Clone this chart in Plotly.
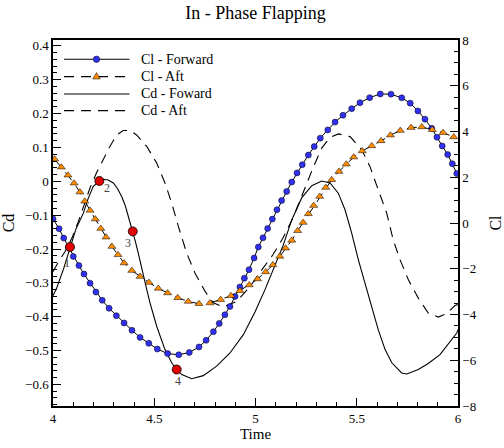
import plotly.graph_objects as go

# ---- Data ----
cl_fwd_t = [4.000, 4.030, 4.053, 4.077, 4.100, 4.128, 4.153, 4.183, 4.212, 4.243,
            4.277, 4.313, 4.351, 4.390, 4.430, 4.473, 4.515, 4.566, 4.621, 4.673,
            4.721, 4.756, 4.792, 4.821, 4.849, 4.874, 4.899, 4.923, 4.945, 4.968,
            4.993, 5.014, 5.037, 5.060, 5.083, 5.106, 5.129, 5.154, 5.179, 5.205,
            5.231, 5.261, 5.290, 5.320, 5.357, 5.393, 5.432, 5.475, 5.516, 5.564,
            5.616, 5.669, 5.722, 5.764, 5.802, 5.837, 5.870, 5.896, 5.922, 5.949,
            5.972, 5.994]
cl_fwd = [0.18, -0.25, -0.66, -1.06, -1.46, -1.86, -2.23, -2.63, -3.02, -3.38,
          -3.73, -4.05, -4.37, -4.69, -5.00, -5.26, -5.51, -5.71, -5.76, -5.66,
          -5.42, -5.13, -4.75, -4.39, -4.01, -3.65, -3.21, -2.80, -2.41, -2.04,
          -1.53, -1.05, -0.65, -0.24, 0.17, 0.58, 0.98, 1.38, 1.79, 2.19,
          2.55, 2.97, 3.34, 3.71, 4.07, 4.41, 4.71, 5.00, 5.26, 5.48,
          5.64, 5.63, 5.47, 5.24, 4.90, 4.54, 4.14, 3.75, 3.37, 2.99,
          2.59, 2.16]

cl_aft_t = [4.008, 4.041, 4.074, 4.104, 4.133, 4.157, 4.183, 4.209, 4.236, 4.262,
            4.291, 4.321, 4.351, 4.389, 4.430, 4.474, 4.520, 4.566, 4.616, 4.668,
            4.721, 4.775, 4.828, 4.879, 4.923, 4.969, 5.010, 5.050, 5.086, 5.120,
            5.149, 5.179, 5.208, 5.235, 5.261, 5.287, 5.317, 5.347, 5.376, 5.412,
            5.448, 5.485, 5.527, 5.574, 5.620, 5.666, 5.715, 5.768, 5.821, 5.873,
            5.926, 5.979]
cl_aft = [2.79, 2.44, 2.09, 1.74, 1.35, 0.95, 0.55, 0.17, -0.24, -0.62,
          -1.03, -1.39, -1.75, -2.08, -2.34, -2.60, -2.86, -3.06, -3.27, -3.43,
          -3.53, -3.50, -3.35, -3.18, -2.96, -2.71, -2.45, -2.14, -1.83, -1.46,
          -1.10, -0.76, -0.34, 0.02, 0.40, 0.76, 1.16, 1.55, 1.89, 2.25,
          2.57, 2.88, 3.15, 3.37, 3.59, 3.84, 4.04, 4.17, 4.20, 4.08,
          3.95, 3.76]

cd_fwd_t = [4.000, 4.018, 4.051, 4.084, 4.114, 4.150, 4.173, 4.199, 4.229, 4.248,
            4.272, 4.298, 4.319, 4.339, 4.357, 4.372, 4.394, 4.407, 4.421, 4.446,
            4.463, 4.479, 4.512, 4.553, 4.586, 4.611, 4.636, 4.685, 4.742, 4.808,
            4.874, 4.940, 4.998, 5.047, 5.096, 5.136, 5.179, 5.228, 5.278, 5.327,
            5.368, 5.409, 5.442, 5.475, 5.508, 5.541, 5.574, 5.606, 5.640, 5.673,
            5.722, 5.747, 5.804, 5.853, 5.911, 5.952, 5.994, 6.000]
cd_fwd = [-0.338, -0.315, -0.261, -0.194, -0.140, -0.094, -0.052, -0.015, 0.001, 0.006,
          0.004, -0.005, -0.022, -0.045, -0.072, -0.104, -0.148, -0.178, -0.212, -0.271,
          -0.320, -0.359, -0.428, -0.497, -0.536, -0.556, -0.571, -0.583, -0.574, -0.546,
          -0.507, -0.453, -0.385, -0.320, -0.249, -0.190, -0.114, -0.049, -0.013, 0.001,
          -0.005, -0.035, -0.084, -0.153, -0.232, -0.300, -0.369, -0.438, -0.497, -0.536,
          -0.566, -0.569, -0.556, -0.538, -0.512, -0.482, -0.448, -0.438]

cd_aft_t = [4.000, 4.025, 4.059, 4.094, 4.125, 4.153, 4.183, 4.215, 4.248, 4.281,
            4.315, 4.347, 4.380, 4.413, 4.463, 4.512, 4.553, 4.586, 4.619, 4.660,
            4.701, 4.751, 4.792, 4.841, 4.907, 4.973, 5.032, 5.086, 5.136, 5.185,
            5.235, 5.284, 5.328, 5.368, 5.409, 5.467, 5.525, 5.565, 5.606, 5.648,
            5.680, 5.714, 5.755, 5.804, 5.853, 5.903, 5.944, 5.985, 6.000]
cd_aft = [-0.267, -0.240, -0.208, -0.167, -0.119, -0.069, -0.019, 0.025, 0.063, 0.103,
          0.137, 0.150, 0.150, 0.137, 0.103, 0.054, -0.005, -0.064, -0.133, -0.212,
          -0.271, -0.325, -0.359, -0.371, -0.355, -0.311, -0.261, -0.217, -0.167, -0.108,
          -0.034, 0.040, 0.099, 0.130, 0.140, 0.132, 0.093, 0.044, -0.025, -0.094,
          -0.173, -0.232, -0.291, -0.345, -0.389, -0.401, -0.391, -0.367, -0.364]

mark_t = [4.084, 4.229, 4.394, 4.611]
mark_cd = [-0.194, 0.001, -0.148, -0.556]
mark_labels = ["1", "2", "3", "4"]

legend_names = ["Cl - Forward", "Cl - Aft", "Cd - Foward", "Cd - Aft"]

x_ticks = [4, 4.5, 5, 5.5, 6]
x_ticklabels = ["4", "4.5", "5", "5.5", "6"]

FONT = "Liberation Serif, Times New Roman, serif"
BLUE = "#3030f0"
ORANGE = "#ff8c00"
RED = "#e00000"
DASH = "10px,7px"

fig = go.Figure()

fig.add_trace(go.Scatter(x=cd_fwd_t, y=cd_fwd, mode="lines", name=legend_names[2],
                         line=dict(color="black", width=1.1), yaxis="y"))
fig.add_trace(go.Scatter(x=cd_aft_t, y=cd_aft, mode="lines", name=legend_names[3],
                         line=dict(color="black", width=1.1, dash=DASH), yaxis="y"))
fig.add_trace(go.Scatter(x=cl_fwd_t, y=cl_fwd, mode="lines+markers", name=legend_names[0],
                         line=dict(color="black", width=1),
                         marker=dict(symbol="circle", size=6, color=BLUE,
                                     line=dict(color="black", width=0.5)),
                         yaxis="y2"))
fig.add_trace(go.Scatter(x=cl_aft_t, y=cl_aft, mode="lines+markers", name=legend_names[1],
                         line=dict(color="black", width=1, dash=DASH),
                         marker=dict(symbol="triangle-up", size=7, color=ORANGE,
                                     line=dict(color="black", width=0.5)),
                         yaxis="y2"))
fig.add_trace(go.Scatter(x=mark_t, y=mark_cd, mode="markers", showlegend=False,
                         marker=dict(symbol="circle", size=9, color=RED,
                                     line=dict(color="black", width=0.8)),
                         yaxis="y3"))

# point number labels (offsets in pixels)
label_shift = [(-3, -16), (8, -7), (-5, -12), (1, -11)]
for t, v, s, (dx, dy) in zip(mark_t, mark_cd, mark_labels, label_shift):
    fig.add_annotation(x=t, y=v, xref="x", yref="y", text=s, showarrow=False,
                       xshift=dx, yshift=dy,
                       font=dict(family=FONT, size=12, color="#444444"))

# ---- Hand-drawn legend (paper coordinates) ----
W, H, L, T = 405.0, 366.5, 53.0, 40.0
def px(x):
    return (x - L) / W
def py(y):
    return 1 - (y - T) / H

rows_y = [59.3, 76.7, 94.0, 110.7]
dashes = ["solid", DASH, "solid", DASH]
shapes = []
for name, ry, dsh in zip(legend_names, rows_y, dashes):
    shapes.append(dict(type="line", xref="paper", yref="paper",
                       x0=px(64), x1=px(129.5), y0=py(ry), y1=py(ry),
                       line=dict(color="black", width=1.1, dash=dsh)))
    fig.add_annotation(x=px(139), y=py(ry), xref="paper", yref="paper",
                       text=name, showarrow=False, xanchor="left", yanchor="middle",
                       font=dict(family=FONT, size=14, color="black"))
# legend symbols
shapes.append(dict(type="circle", xref="paper", yref="paper",
                   xsizemode="pixel", ysizemode="pixel",
                   xanchor=px(96.5), yanchor=py(rows_y[0]),
                   x0=-3.2, x1=3.2, y0=-3.2, y1=3.2,
                   fillcolor=BLUE, line=dict(color="black", width=0.5)))
shapes.append(dict(type="path", xref="paper", yref="paper",
                   xsizemode="pixel", ysizemode="pixel",
                   xanchor=px(96.5), yanchor=py(rows_y[1]),
                   path="M -3.8 -2.3 L 3.8 -2.3 L 0 4.1 Z",
                   fillcolor=ORANGE, line=dict(color="black", width=0.5)))

left_range = [-0.6637, 0.4174]

fig.update_layout(
    width=504, height=448,
    margin=dict(l=53, r=46, t=40, b=42),
    paper_bgcolor="white", plot_bgcolor="white",
    font=dict(family=FONT, size=13, color="black"),
    title=dict(text="In - Phase Flapping", x=0.5, xref="paper", xanchor="center",
               y=0.985, yref="container", yanchor="top",
               font=dict(family=FONT, size=18, color="black")),
    showlegend=False,
    shapes=shapes,
    xaxis=dict(range=[4, 6], tickvals=x_ticks, ticktext=x_ticklabels, automargin=False,
               ticks="inside", ticklen=8, tickwidth=1, tickcolor="black",
               minor=dict(dtick=0.1, tick0=4, ticks="inside", ticklen=4, tickcolor="black"),
               showline=True, linecolor="black", linewidth=1.5, mirror=True,
               showgrid=False, zeroline=False,
               tickfont=dict(family=FONT, size=13),
               title=dict(text="Time", font=dict(family=FONT, size=15), standoff=1)),
    yaxis=dict(range=left_range, dtick=0.1, tick0=0, automargin=False,
               ticks="inside", ticklen=8, tickwidth=1, tickcolor="black",
               minor=dict(dtick=0.02, tick0=0, ticks="inside", ticklen=4, tickcolor="black"),
               showline=True, linecolor="black", linewidth=1.5,
               showgrid=False, zeroline=False,
               tickfont=dict(family=FONT, size=13),
               title=dict(text="Cd", font=dict(family=FONT, size=16), standoff=6)),
    yaxis2=dict(range=[-8, 8], dtick=2, tick0=0, overlaying="y", side="right",
                automargin=False,
                ticks="inside", ticklen=8, tickwidth=1, tickcolor="black",
                minor=dict(dtick=0.5, tick0=0, ticks="inside", ticklen=4, tickcolor="black"),
                showline=True, linecolor="black", linewidth=1.5,
                showgrid=False, zeroline=False,
                tickfont=dict(family=FONT, size=13),
                title=dict(text="Cl", font=dict(family=FONT, size=16), standoff=17)),
    yaxis3=dict(range=left_range, overlaying="y", side="left", visible=False),
)

fig.write_html("out.html")
